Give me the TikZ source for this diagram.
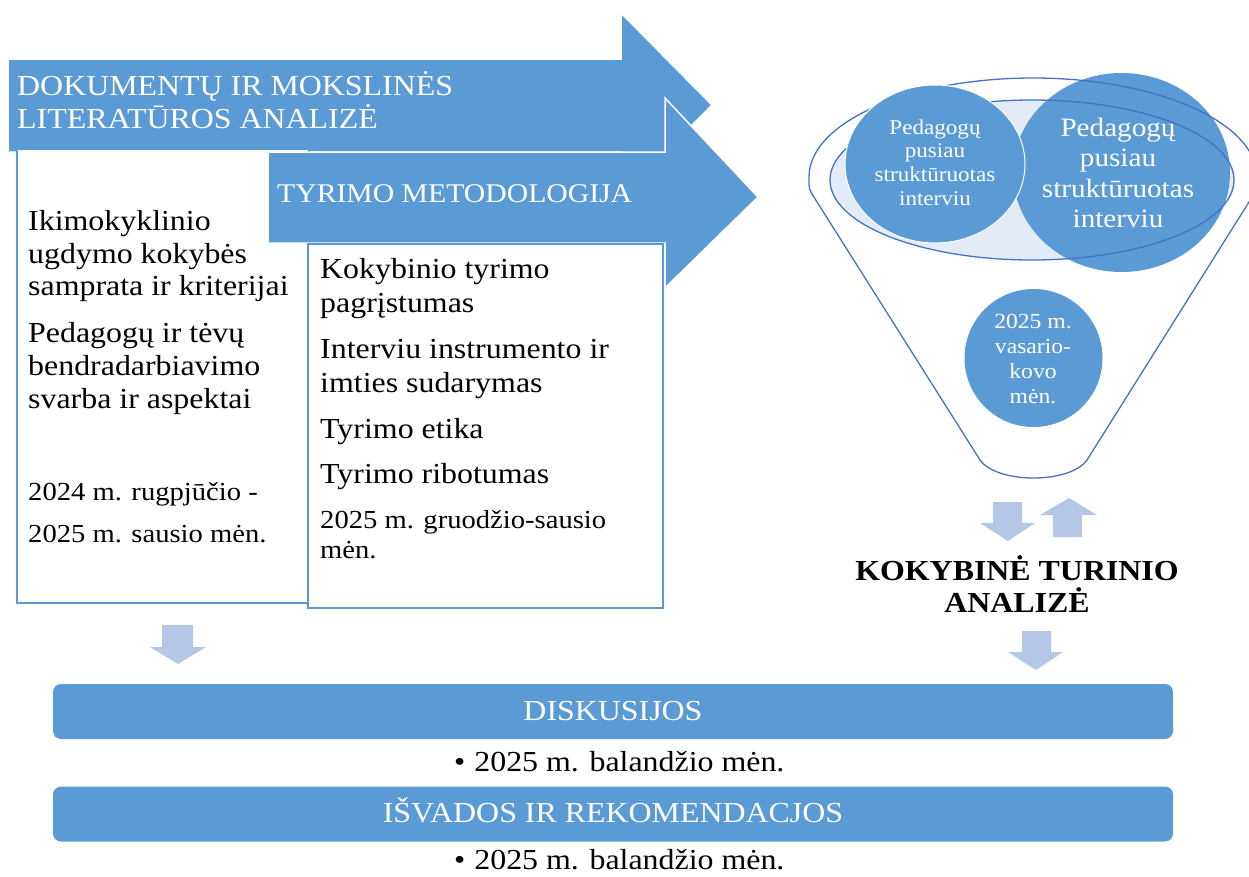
\documentclass[tikz,border=0pt]{standalone}
\usepackage{fontspec}
\setmainfont{Liberation Serif}[FakeStretch=1.1]
\usepackage{tikz}
\usepackage{xcolor}

\definecolor{mainblue}{HTML}{5B9BD5}
\definecolor{lightblue}{HTML}{B4C7E7}
\definecolor{funnelblue}{HTML}{4472C4}
\definecolor{paleblue}{HTML}{E3EBF6}

\tikzset{
  bigarrow/.style={fill=mainblue,draw=white,line width=1.5pt},
  whitebox/.style={fill=white,draw=mainblue,line width=2pt},
  smallarrow/.style={fill=lightblue},
  funnel/.style={draw=funnelblue,line width=1.3pt},
  bigtext/.style={anchor=base west,inner sep=0pt,font=\fontsize{29}{33}\selectfont},
  datetext/.style={anchor=base west,inner sep=0pt,font=\fontsize{26}{30}\selectfont},
  ctext/.style={anchor=base,inner sep=0pt,text=white},
  bar/.style={fill=mainblue,rounded corners=8pt,minimum width=1120pt,minimum height=55pt,
    text=white,font=\fontsize{29}{33}\selectfont,text height=17pt,text depth=0pt}
}

\begin{document}
\begin{tikzpicture}[x=1pt,y=-1pt]
        \useasboundingbox (0,0) rectangle (1249,876);
        % big arrows and boxes
        \filldraw[bigarrow] (8,59)--(621,59)--(621,13)--(712,105)--(621,197)--(621,152)--(8,152)--cycle;
        \node[bigtext,text=white] (doc1) at (17,95) {DOKUMENTŲ IR MOKSLINĖS};
        \node[bigtext,text=white] (doc2) at (17,128) {LITERATŪROS ANALIZĖ};
        \filldraw[whitebox] (17,149) rectangle (309,603);
        \filldraw[bigarrow] (268,152)--(665,152)--(665,98)--(758,197)--(665,288)--(665,243)--(268,243)--cycle;
        \node[bigtext,text=white,font=\fontsize{27}{31}\selectfont] (metod) at (277,202) {TYRIMO METODOLOGIJA};
        \filldraw[whitebox] (308,244) rectangle (663,608);
        \foreach \yy/\txt [count=\i] in {230/Ikimokyklinio,263/ugdymo kokybės,295/samprata ir kriterijai,
            342/Pedagogų ir tėvų,375/bendradarbiavimo,408/svarba ir aspektai}
          \node[bigtext] (lbox\i) at (28,\yy) {\txt};
        \node[datetext] (ldate1) at (28,500) {2024 m. rugpjūčio -};
        \node[datetext] (ldate2) at (28,542) {2025 m. sausio mėn.};
        \foreach \yy/\txt [count=\i] in {278/Kokybinio tyrimo,312/pagrįstumas,358/Interviu instrumento ir,
            392/imties sudarymas,438/Tyrimo etika,483/Tyrimo ribotumas}
          \node[bigtext] (rbox\i) at (320,\yy) {\txt};
        \node[datetext] (rdate1) at (320,528) {2025 m. gruodžio-sausio};
        \node[datetext] (rdate2) at (320,558) {mėn.};
        % funnel
        \fill[paleblue] (1032,180) ellipse (202 and 80);
        \fill[mainblue] (1121.5,172.5) ellipse (108.5 and 99.5);
        \draw[funnel] (980,460)--(812,194) .. controls (808,188) and (809,182) .. (809,177)
            .. controls (809,122.3) and (909.3,78) .. (1033,78)
            .. controls (1156.7,78) and (1257,122.3) .. (1257,177)
            .. controls (1257,182) and (1258,188) .. (1254,194)--(1087,460)
            .. controls (1070,484) and (997,484) .. cycle;
        \draw[funnel] (1032,180) ellipse (202 and 80);
        \filldraw[fill=mainblue,draw=white,line width=1pt] (935,164) ellipse (90 and 79);
        \fill[mainblue] (1033.5,358) circle (69);
        \foreach \yy/\txt [count=\i] in {134/Pedagogų,157/pusiau,181/struktūruotas,205/interviu}
          \node[ctext,font=\fontsize{21}{24}\selectfont] (cone\i) at (935,\yy) {\txt};
        \foreach \yy/\txt [count=\i] in {136/Pedagogų,166/pusiau,197/struktūruotas,227/interviu}
          \node[ctext,font=\fontsize{26.5}{30}\selectfont] (ctwo\i) at (1118,\yy) {\txt};
        \foreach \yy/\txt [count=\i] in {328/2025 m.,353/vasario-,378/kovo,403/mėn.}
          \node[ctext,font=\fontsize{21.5}{25}\selectfont] (cthree\i) at (1033,\yy) {\txt};
        % small arrows
        \fill[smallarrow] (993,502)--(1022,502)--(1022,523)--(1035,523)--(1008,541)--(980,523)--(993,523)--cycle;
        \fill[smallarrow] (1053,537)--(1082,537)--(1082,515)--(1097,515)--(1069,498)--(1040,515)--(1053,515)--cycle;
        \node[anchor=base,inner sep=0pt,font=\bfseries\fontsize{29}{32}\selectfont] (kta1) at (1017,580) {KOKYBINĖ TURINIO};
        \node[anchor=base,inner sep=0pt,font=\bfseries\fontsize{29}{32}\selectfont] (kta2) at (1017,612) {ANALIZĖ};
        \fill[smallarrow] (1022,631)--(1051,631)--(1051,652)--(1063,652)--(1036,670)--(1008,652)--(1022,652)--cycle;
        \fill[smallarrow] (162,625)--(193,625)--(193,647)--(206,647)--(178,664)--(150,647)--(162,647)--cycle;
        % bars
        \node[bar] (disk) at (613,711.5) {DISKUSIJOS};
        \node[bigtext] (disk date) at (454,771) {\textbullet\hspace{9pt}2025 m. balandžio mėn.};
        \node[bar] (isv) at (613,814) {IŠVADOS IR REKOMENDACJOS};
        \node[bigtext] (isv date) at (454,869) {\textbullet\hspace{9pt}2025 m. balandžio mėn.};
\end{tikzpicture}
\end{document}
